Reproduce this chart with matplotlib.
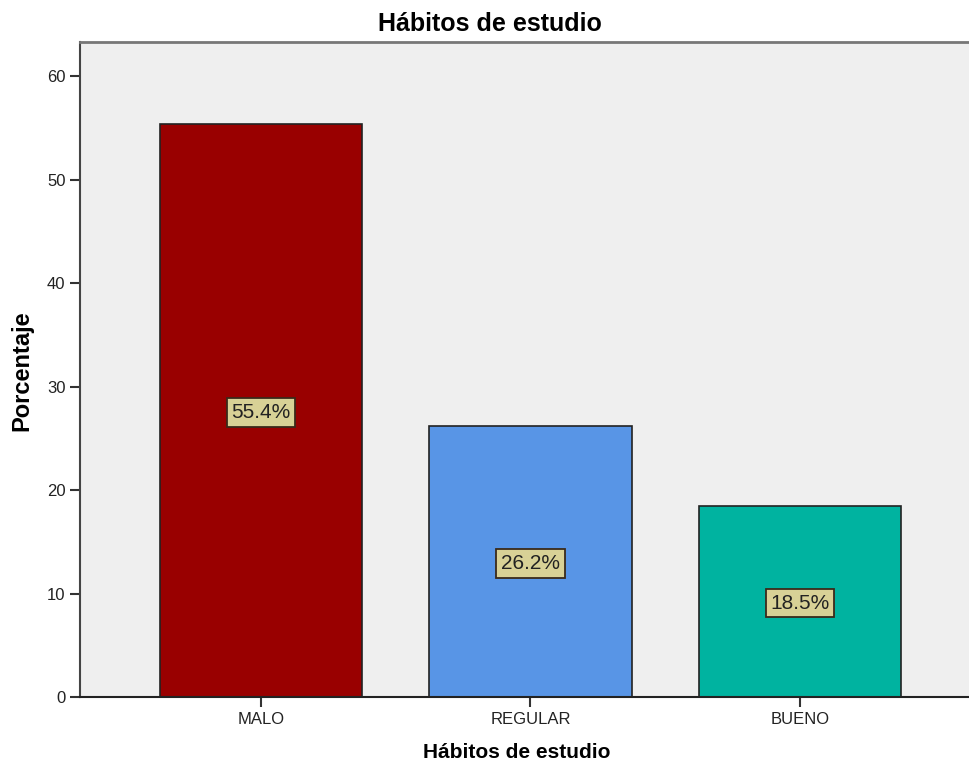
import matplotlib.pyplot as plt

categorias = ['MALO', 'REGULAR', 'BUENO']
porcentajes = [55.4, 26.2, 18.5]
colores = ['#990000', '#5895E6', '#00B3A0']

plt.rcParams['font.family'] = ['Liberation Sans', 'DejaVu Sans']

fig = plt.figure(figsize=(9.69, 7.69), dpi=100)
ax = fig.add_axes([80/969, 72/769, 901/969, 655/769])
ax.set_facecolor('#EFEFEF')

x = range(len(categorias))
bars = ax.bar(x, porcentajes, width=0.75, color=colores, edgecolor='#222222', linewidth=1.2)

for xi, v in zip(x, porcentajes):
    ax.text(xi, v / 2 - 0.2, f'{v:.1f}%', ha='center', va='center', fontsize=15,
            color='#222222',
            bbox=dict(boxstyle='square,pad=0.22', facecolor='#D8D196', edgecolor='#3a2a1a', linewidth=1.3))

ax.set_xlim(-0.672, 2.672)
ax.set_ylim(0, 63.3)
ax.set_yticks(range(0, 61, 10))
ax.set_xticks(list(x))
ax.set_xticklabels(categorias)
ax.tick_params(axis='both', labelsize=12, width=1.5, length=7, color='#333333', labelcolor='#222222')

ax.spines['right'].set_visible(False)
ax.spines['top'].set_color('#777777')
ax.spines['top'].set_linewidth(2)
ax.spines['left'].set_color('#444444')
ax.spines['left'].set_linewidth(1.5)
ax.spines['bottom'].set_color('#222222')
ax.spines['bottom'].set_linewidth(1.5)

fig.text(490/969, 1 - 24/769, 'Hábitos de estudio', ha='center', va='center', fontsize=18, fontweight='bold')
fig.text(517/969, 1 - 752/769, 'Hábitos de estudio', ha='center', va='center', fontsize=15, fontweight='bold')
fig.text(22/969, 1 - 371/769, 'Porcentaje', ha='center', va='center', rotation=90, fontsize=17, fontweight='bold')

plt.savefig('out.png', dpi=100)
